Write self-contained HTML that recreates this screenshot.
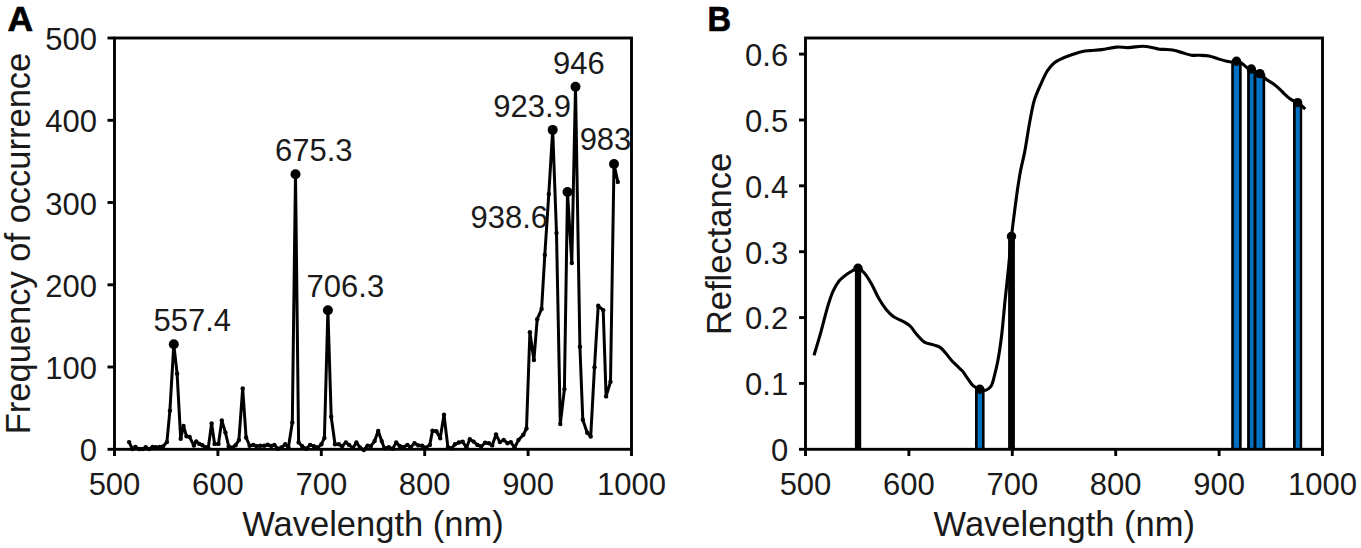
<!DOCTYPE html><html><head><meta charset="utf-8"><style>html,body{margin:0;padding:0;background:#fff;}svg{display:block;}text{font-family:"Liberation Sans",sans-serif;}</style></head><body>
<svg width="1361" height="548" viewBox="0 0 1361 548">
<rect width="1361" height="548" fill="#fff"/>
<g fill="none" stroke="#000" stroke-width="2.9">
<rect x="114.5" y="38.0" width="517.0" height="411.3"/>
<line x1="107.5" y1="449.3" x2="114.5" y2="449.3"/>
<line x1="107.5" y1="367.0" x2="114.5" y2="367.0"/>
<line x1="107.5" y1="284.8" x2="114.5" y2="284.8"/>
<line x1="107.5" y1="202.5" x2="114.5" y2="202.5"/>
<line x1="107.5" y1="120.3" x2="114.5" y2="120.3"/>
<line x1="107.5" y1="38.0" x2="114.5" y2="38.0"/>
<line x1="114.5" y1="449.3" x2="114.5" y2="456"/>
<line x1="217.9" y1="449.3" x2="217.9" y2="456"/>
<line x1="321.3" y1="449.3" x2="321.3" y2="456"/>
<line x1="424.7" y1="449.3" x2="424.7" y2="456"/>
<line x1="528.1" y1="449.3" x2="528.1" y2="456"/>
<line x1="631.5" y1="449.3" x2="631.5" y2="456"/>
</g>
<g fill="#1a1a1a" font-size="31" text-anchor="end">
<text x="97" y="461.3">0</text>
<text x="97" y="379.0">100</text>
<text x="97" y="296.8">200</text>
<text x="97" y="214.5">300</text>
<text x="97" y="132.3">400</text>
<text x="97" y="50.0">500</text>
</g>
<g fill="#1a1a1a" font-size="31" text-anchor="middle">
<text x="114.5" y="494.9">500</text>
<text x="217.9" y="494.9">600</text>
<text x="321.3" y="494.9">700</text>
<text x="424.7" y="494.9">800</text>
<text x="528.1" y="494.9">900</text>
<text x="631.5" y="494.9">1000</text>
</g>
<text x="373" y="536" font-size="34.5" fill="#1a1a1a" text-anchor="middle">Wavelength (nm)</text>
<text transform="translate(30,243.5) rotate(-90)" font-size="34.5" fill="#1a1a1a" text-anchor="middle">Frequency of occurrence</text>
<text x="7.5" y="30.9" font-size="35.5" font-weight="bold" fill="#000" stroke="#000" stroke-width="0.7">A</text>
<path d="M129.1,442.1 L132.4,449.0 L135.4,447.0 L139.3,449.0 L142.6,449.0 L145.7,447.2 L149.0,449.0 L152.6,447.0 L155.9,447.2 L159.7,447.0 L163.0,446.5 L166.9,442.1 L169.9,410.7 L173.8,344.3 L177.1,373.7 L180.7,438.8 L183.5,426.0 L186.5,436.2 L189.6,437.0 L193.9,445.6 L196.2,441.4 L199.3,443.9 L202.4,445.2 L205.7,447.2 L208.3,447.7 L211.6,423.5 L214.6,443.9 L218.5,443.9 L221.8,420.4 L225.4,432.4 L228.7,446.5 L232.0,447.7 L235.6,445.2 L238.9,440.1 L242.7,388.5 L246.1,437.5 L249.6,445.7 L253.3,444.9 L256.5,446.2 L260.3,445.8 L264.2,445.8 L267.7,444.7 L271.2,446.0 L274.4,444.9 L278.0,448.8 L281.4,447.5 L285.2,444.3 L288.4,447.5 L292.3,422.6 L295.5,174.2 L298.6,442.4 L302.2,446.2 L306.3,448.8 L310.1,444.9 L314.0,446.2 L317.8,447.5 L321.4,444.3 L324.4,437.9 L327.9,310.3 L331.2,416.8 L335.0,444.3 L338.9,444.3 L342.1,446.2 L345.9,442.4 L349.1,444.9 L352.9,448.1 L356.4,442.4 L360.0,447.5 L363.8,450.0 L367.6,445.6 L370.8,446.2 L374.6,441.1 L378.2,430.9 L381.7,441.1 L384.4,448.2 L388.8,447.3 L392.6,448.7 L396.2,442.5 L399.7,446.0 L403.5,447.3 L407.4,444.9 L410.6,447.3 L414.5,443.2 L418.3,445.4 L422.1,445.8 L426.0,447.6 L429.8,444.9 L432.5,430.6 L436.4,431.2 L440.2,438.3 L444.0,414.8 L447.9,447.1 L451.7,448.2 L455.0,444.3 L458.8,442.5 L462.6,441.6 L466.5,447.6 L469.8,439.2 L473.6,441.6 L477.4,444.9 L481.2,446.5 L485.1,442.7 L488.9,443.2 L492.2,445.4 L496.0,434.5 L499.9,442.1 L503.7,440.0 L507.5,443.2 L510.8,442.1 L514.6,447.6 L518.5,440.0 L523.3,434.8 L526.5,428.5 L529.9,332.3 L533.9,360.1 L537.2,319.2 L541.6,309.0 L544.8,254.9 L548.8,194.0 L552.7,129.9 L556.5,233.0 L560.3,424.1 L564.4,389.1 L567.5,192.0 L571.8,263.0 L575.5,86.7 L579.9,346.7 L582.8,419.7 L587.2,432.8 L590.7,436.6 L594.5,367.2 L598.2,305.8 L603.2,310.2 L606.1,396.4 L610.5,381.8 L614.0,164.0 L617.8,181.9" fill="none" stroke="#000" stroke-width="3" stroke-linejoin="round"/>
<g fill="#000">
<circle cx="129.1" cy="442.1" r="2.2"/>
<circle cx="132.4" cy="449.0" r="2.2"/>
<circle cx="135.4" cy="447.0" r="2.2"/>
<circle cx="139.3" cy="449.0" r="2.2"/>
<circle cx="142.6" cy="449.0" r="2.2"/>
<circle cx="145.7" cy="447.2" r="2.2"/>
<circle cx="149.0" cy="449.0" r="2.2"/>
<circle cx="152.6" cy="447.0" r="2.2"/>
<circle cx="155.9" cy="447.2" r="2.2"/>
<circle cx="159.7" cy="447.0" r="2.2"/>
<circle cx="163.0" cy="446.5" r="2.2"/>
<circle cx="166.9" cy="442.1" r="2.2"/>
<circle cx="169.9" cy="410.7" r="2.2"/>
<circle cx="173.8" cy="344.3" r="2.2"/>
<circle cx="177.1" cy="373.7" r="2.2"/>
<circle cx="180.7" cy="438.8" r="2.2"/>
<circle cx="183.5" cy="426.0" r="2.2"/>
<circle cx="186.5" cy="436.2" r="2.2"/>
<circle cx="189.6" cy="437.0" r="2.2"/>
<circle cx="193.9" cy="445.6" r="2.2"/>
<circle cx="196.2" cy="441.4" r="2.2"/>
<circle cx="199.3" cy="443.9" r="2.2"/>
<circle cx="202.4" cy="445.2" r="2.2"/>
<circle cx="205.7" cy="447.2" r="2.2"/>
<circle cx="208.3" cy="447.7" r="2.2"/>
<circle cx="211.6" cy="423.5" r="2.2"/>
<circle cx="214.6" cy="443.9" r="2.2"/>
<circle cx="218.5" cy="443.9" r="2.2"/>
<circle cx="221.8" cy="420.4" r="2.2"/>
<circle cx="225.4" cy="432.4" r="2.2"/>
<circle cx="228.7" cy="446.5" r="2.2"/>
<circle cx="232.0" cy="447.7" r="2.2"/>
<circle cx="235.6" cy="445.2" r="2.2"/>
<circle cx="238.9" cy="440.1" r="2.2"/>
<circle cx="242.7" cy="388.5" r="2.2"/>
<circle cx="246.1" cy="437.5" r="2.2"/>
<circle cx="249.6" cy="445.7" r="2.2"/>
<circle cx="253.3" cy="444.9" r="2.2"/>
<circle cx="256.5" cy="446.2" r="2.2"/>
<circle cx="260.3" cy="445.8" r="2.2"/>
<circle cx="264.2" cy="445.8" r="2.2"/>
<circle cx="267.7" cy="444.7" r="2.2"/>
<circle cx="271.2" cy="446.0" r="2.2"/>
<circle cx="274.4" cy="444.9" r="2.2"/>
<circle cx="278.0" cy="448.8" r="2.2"/>
<circle cx="281.4" cy="447.5" r="2.2"/>
<circle cx="285.2" cy="444.3" r="2.2"/>
<circle cx="288.4" cy="447.5" r="2.2"/>
<circle cx="292.3" cy="422.6" r="2.2"/>
<circle cx="295.5" cy="174.2" r="2.2"/>
<circle cx="298.6" cy="442.4" r="2.2"/>
<circle cx="302.2" cy="446.2" r="2.2"/>
<circle cx="306.3" cy="448.8" r="2.2"/>
<circle cx="310.1" cy="444.9" r="2.2"/>
<circle cx="314.0" cy="446.2" r="2.2"/>
<circle cx="317.8" cy="447.5" r="2.2"/>
<circle cx="321.4" cy="444.3" r="2.2"/>
<circle cx="324.4" cy="437.9" r="2.2"/>
<circle cx="327.9" cy="310.3" r="2.2"/>
<circle cx="331.2" cy="416.8" r="2.2"/>
<circle cx="335.0" cy="444.3" r="2.2"/>
<circle cx="338.9" cy="444.3" r="2.2"/>
<circle cx="342.1" cy="446.2" r="2.2"/>
<circle cx="345.9" cy="442.4" r="2.2"/>
<circle cx="349.1" cy="444.9" r="2.2"/>
<circle cx="352.9" cy="448.1" r="2.2"/>
<circle cx="356.4" cy="442.4" r="2.2"/>
<circle cx="360.0" cy="447.5" r="2.2"/>
<circle cx="363.8" cy="450.0" r="2.2"/>
<circle cx="367.6" cy="445.6" r="2.2"/>
<circle cx="370.8" cy="446.2" r="2.2"/>
<circle cx="374.6" cy="441.1" r="2.2"/>
<circle cx="378.2" cy="430.9" r="2.2"/>
<circle cx="381.7" cy="441.1" r="2.2"/>
<circle cx="384.4" cy="448.2" r="2.2"/>
<circle cx="388.8" cy="447.3" r="2.2"/>
<circle cx="392.6" cy="448.7" r="2.2"/>
<circle cx="396.2" cy="442.5" r="2.2"/>
<circle cx="399.7" cy="446.0" r="2.2"/>
<circle cx="403.5" cy="447.3" r="2.2"/>
<circle cx="407.4" cy="444.9" r="2.2"/>
<circle cx="410.6" cy="447.3" r="2.2"/>
<circle cx="414.5" cy="443.2" r="2.2"/>
<circle cx="418.3" cy="445.4" r="2.2"/>
<circle cx="422.1" cy="445.8" r="2.2"/>
<circle cx="426.0" cy="447.6" r="2.2"/>
<circle cx="429.8" cy="444.9" r="2.2"/>
<circle cx="432.5" cy="430.6" r="2.2"/>
<circle cx="436.4" cy="431.2" r="2.2"/>
<circle cx="440.2" cy="438.3" r="2.2"/>
<circle cx="444.0" cy="414.8" r="2.2"/>
<circle cx="447.9" cy="447.1" r="2.2"/>
<circle cx="451.7" cy="448.2" r="2.2"/>
<circle cx="455.0" cy="444.3" r="2.2"/>
<circle cx="458.8" cy="442.5" r="2.2"/>
<circle cx="462.6" cy="441.6" r="2.2"/>
<circle cx="466.5" cy="447.6" r="2.2"/>
<circle cx="469.8" cy="439.2" r="2.2"/>
<circle cx="473.6" cy="441.6" r="2.2"/>
<circle cx="477.4" cy="444.9" r="2.2"/>
<circle cx="481.2" cy="446.5" r="2.2"/>
<circle cx="485.1" cy="442.7" r="2.2"/>
<circle cx="488.9" cy="443.2" r="2.2"/>
<circle cx="492.2" cy="445.4" r="2.2"/>
<circle cx="496.0" cy="434.5" r="2.2"/>
<circle cx="499.9" cy="442.1" r="2.2"/>
<circle cx="503.7" cy="440.0" r="2.2"/>
<circle cx="507.5" cy="443.2" r="2.2"/>
<circle cx="510.8" cy="442.1" r="2.2"/>
<circle cx="514.6" cy="447.6" r="2.2"/>
<circle cx="518.5" cy="440.0" r="2.2"/>
<circle cx="523.3" cy="434.8" r="2.2"/>
<circle cx="526.5" cy="428.5" r="2.2"/>
<circle cx="529.9" cy="332.3" r="2.2"/>
<circle cx="533.9" cy="360.1" r="2.2"/>
<circle cx="537.2" cy="319.2" r="2.2"/>
<circle cx="541.6" cy="309.0" r="2.2"/>
<circle cx="544.8" cy="254.9" r="2.2"/>
<circle cx="548.8" cy="194.0" r="2.2"/>
<circle cx="552.7" cy="129.9" r="2.2"/>
<circle cx="556.5" cy="233.0" r="2.2"/>
<circle cx="560.3" cy="424.1" r="2.2"/>
<circle cx="564.4" cy="389.1" r="2.2"/>
<circle cx="567.5" cy="192.0" r="2.2"/>
<circle cx="571.8" cy="263.0" r="2.2"/>
<circle cx="575.5" cy="86.7" r="2.2"/>
<circle cx="579.9" cy="346.7" r="2.2"/>
<circle cx="582.8" cy="419.7" r="2.2"/>
<circle cx="587.2" cy="432.8" r="2.2"/>
<circle cx="590.7" cy="436.6" r="2.2"/>
<circle cx="594.5" cy="367.2" r="2.2"/>
<circle cx="598.2" cy="305.8" r="2.2"/>
<circle cx="603.2" cy="310.2" r="2.2"/>
<circle cx="606.1" cy="396.4" r="2.2"/>
<circle cx="610.5" cy="381.8" r="2.2"/>
<circle cx="614.0" cy="164.0" r="2.2"/>
<circle cx="617.8" cy="181.9" r="2.2"/>
<circle cx="173.8" cy="344.3" r="5"/>
<circle cx="295.5" cy="174.2" r="5"/>
<circle cx="327.9" cy="310.3" r="5"/>
<circle cx="552.7" cy="129.9" r="5"/>
<circle cx="567.5" cy="192.0" r="5"/>
<circle cx="575.5" cy="86.7" r="5"/>
<circle cx="614.0" cy="164.0" r="5"/>
</g>
<g fill="#1a1a1a" font-size="31" text-anchor="middle">
<text x="192.2" y="330.7">557.4</text>
<text x="313.8" y="161.3">675.3</text>
<text x="345.4" y="297.4">706.3</text>
<text x="532.1" y="116.8">923.9</text>
<text x="578.8" y="73.9">946</text>
<text x="509.2" y="228.4">938.6</text>
<text x="605.5" y="150.4">983</text>
</g>
<rect x="854.90" y="268.20" width="6.30" height="181.10" fill="#000"/>
<rect x="975.00" y="389.20" width="9.60" height="60.10" fill="#000"/>
<rect x="977.60" y="391.80" width="4.40" height="57.50" fill="#0070c0"/>
<rect x="1008.10" y="236.40" width="6.80" height="212.90" fill="#000"/>
<rect x="1231.20" y="61.20" width="10.50" height="388.10" fill="#000"/>
<rect x="1233.80" y="63.80" width="5.30" height="385.50" fill="#0070c0"/>
<rect x="1247.10" y="69.00" width="8.50" height="380.30" fill="#000"/>
<rect x="1249.90" y="71.60" width="3.60" height="377.70" fill="#0070c0"/>
<rect x="1254.60" y="73.60" width="10.60" height="375.70" fill="#000"/>
<rect x="1256.40" y="76.20" width="6.10" height="373.10" fill="#0070c0"/>
<rect x="1293.00" y="102.60" width="9.20" height="346.70" fill="#000"/>
<rect x="1295.70" y="105.20" width="4.10" height="344.10" fill="#0070c0"/>
<g fill="none" stroke="#000" stroke-width="2.9">
<rect x="805.5" y="38.0" width="517.0" height="411.3"/>
<line x1="799" y1="449.3" x2="805.5" y2="449.3"/>
<line x1="799" y1="383.4" x2="805.5" y2="383.4"/>
<line x1="799" y1="317.6" x2="805.5" y2="317.6"/>
<line x1="799" y1="251.7" x2="805.5" y2="251.7"/>
<line x1="799" y1="185.8" x2="805.5" y2="185.8"/>
<line x1="799" y1="120.0" x2="805.5" y2="120.0"/>
<line x1="799" y1="54.1" x2="805.5" y2="54.1"/>
<line x1="805.5" y1="449.3" x2="805.5" y2="456"/>
<line x1="908.9" y1="449.3" x2="908.9" y2="456"/>
<line x1="1012.3" y1="449.3" x2="1012.3" y2="456"/>
<line x1="1115.7" y1="449.3" x2="1115.7" y2="456"/>
<line x1="1219.1" y1="449.3" x2="1219.1" y2="456"/>
<line x1="1322.5" y1="449.3" x2="1322.5" y2="456"/>
</g>
<path d="M814.00,355.40 C816.37,347.37 818.79,339.51 821.10,331.30 C823.49,322.79 825.82,312.53 828.10,305.20 C829.80,299.74 831.12,295.31 833.10,291.10 C834.85,287.38 836.68,283.97 839.10,281.10 C841.42,278.35 844.60,276.01 847.20,274.10 C849.37,272.51 851.52,271.23 853.50,270.20 C855.15,269.35 856.61,267.99 858.20,268.20 C860.13,268.45 862.19,270.75 864.10,272.80 C866.63,275.52 869.09,279.72 871.40,283.70 C873.98,288.14 876.12,293.85 878.70,298.30 C881.02,302.30 883.40,306.12 886.00,309.30 C888.30,312.11 890.55,314.63 893.30,316.60 C896.02,318.55 899.57,319.52 902.40,321.10 C905.01,322.56 907.42,323.67 909.70,325.70 C912.35,328.06 914.49,332.00 917.00,334.80 C919.36,337.44 921.49,340.41 924.30,342.10 C927.01,343.73 930.66,343.92 933.50,344.90 C936.01,345.76 938.45,346.20 940.50,347.60 C942.64,349.06 944.20,351.53 946.00,353.60 C947.84,355.72 949.54,358.14 951.40,360.20 C953.18,362.16 955.06,363.88 956.90,365.70 C958.73,367.51 960.65,369.05 962.40,371.10 C964.34,373.37 966.06,376.30 967.90,378.80 C969.69,381.23 971.21,384.13 973.30,385.90 C975.17,387.48 977.49,388.47 979.60,389.20 C981.52,389.87 983.58,390.71 985.40,390.30 C987.36,389.86 989.43,388.35 990.90,386.30 C992.99,383.40 993.84,377.60 995.00,373.30 C996.12,369.17 996.89,365.82 997.80,361.00 C999.08,354.25 1000.38,345.49 1001.50,336.50 C1002.86,325.56 1003.89,311.76 1005.10,300.00 C1006.23,288.98 1007.43,278.64 1008.50,268.00 C1009.56,257.44 1010.43,246.25 1011.50,236.40 C1012.44,227.73 1013.50,219.84 1014.50,212.00 C1015.43,204.71 1016.28,197.82 1017.30,190.90 C1018.29,184.16 1019.26,177.50 1020.50,171.00 C1021.70,164.68 1023.25,159.34 1024.60,152.40 C1026.29,143.69 1027.85,132.01 1029.60,122.80 C1031.14,114.69 1032.30,106.87 1034.40,100.00 C1036.22,94.05 1038.71,88.87 1041.00,83.80 C1043.09,79.16 1045.07,74.37 1047.50,70.70 C1049.52,67.65 1051.72,64.97 1054.10,63.00 C1056.16,61.29 1058.18,60.43 1060.70,59.20 C1063.83,57.67 1067.93,56.09 1071.60,54.80 C1075.23,53.53 1079.27,52.20 1082.60,51.50 C1085.28,50.94 1087.24,50.88 1090.00,50.60 C1093.47,50.24 1097.66,50.13 1101.80,49.60 C1106.44,49.01 1111.86,47.39 1116.50,47.10 C1120.61,46.84 1124.08,47.71 1128.20,47.60 C1132.82,47.48 1138.63,46.11 1142.90,46.20 C1146.21,46.27 1148.88,46.86 1151.70,47.40 C1154.37,47.91 1157.02,48.99 1159.40,49.30 C1161.40,49.56 1162.93,49.29 1165.00,49.40 C1167.61,49.54 1170.89,49.64 1173.80,50.20 C1176.76,50.77 1179.65,51.97 1182.60,52.80 C1185.55,53.63 1188.52,54.79 1191.50,55.20 C1194.42,55.60 1197.37,55.15 1200.30,55.30 C1203.24,55.45 1206.19,55.54 1209.10,56.10 C1212.06,56.67 1214.97,57.83 1217.90,58.70 C1220.83,59.57 1224.21,60.75 1226.70,61.30 C1228.49,61.70 1229.83,62.01 1231.40,62.00 C1232.99,61.99 1234.55,61.04 1236.20,61.20 C1238.04,61.37 1240.10,62.27 1241.90,63.30 C1243.85,64.41 1245.54,66.86 1247.40,67.80 C1248.92,68.57 1250.56,68.38 1252.00,69.00 C1253.43,69.62 1254.62,70.74 1256.00,71.50 C1257.39,72.27 1258.90,72.60 1260.30,73.60 C1261.98,74.80 1263.29,76.95 1265.20,78.50 C1267.40,80.28 1270.60,81.82 1272.90,83.50 C1274.90,84.96 1276.53,86.31 1278.30,87.90 C1280.16,89.57 1281.95,91.55 1283.80,93.30 C1285.62,95.02 1287.39,96.90 1289.30,98.30 C1291.07,99.60 1293.25,100.75 1294.80,101.50 C1295.87,102.02 1296.64,102.06 1297.60,102.60 C1298.79,103.27 1300.08,104.35 1301.30,105.40 C1302.62,106.53 1303.90,107.93 1305.20,109.20" fill="none" stroke="#000" stroke-width="3.1" stroke-linejoin="round"/>
<g fill="#000">
<circle cx="858.0" cy="268.2" r="4.7"/>
<circle cx="979.8" cy="389.2" r="4.7"/>
<circle cx="1011.5" cy="236.4" r="4.7"/>
<circle cx="1236.5" cy="61.2" r="4.7"/>
<circle cx="1251.3" cy="69.0" r="4.7"/>
<circle cx="1259.9" cy="73.6" r="4.7"/>
<circle cx="1297.6" cy="102.6" r="4.7"/>
</g>
<g fill="#1a1a1a" font-size="31" text-anchor="end">
<text x="788.2" y="461.1">0</text>
<text x="788.2" y="395.2">0.1</text>
<text x="788.2" y="329.4">0.2</text>
<text x="788.2" y="263.5">0.3</text>
<text x="788.2" y="197.6">0.4</text>
<text x="788.2" y="131.8">0.5</text>
<text x="788.2" y="65.9">0.6</text>
</g>
<g fill="#1a1a1a" font-size="31" text-anchor="middle">
<text x="805.5" y="494.9">500</text>
<text x="908.9" y="494.9">600</text>
<text x="1012.3" y="494.9">700</text>
<text x="1115.7" y="494.9">800</text>
<text x="1219.1" y="494.9">900</text>
<text x="1322.5" y="494.9">1000</text>
</g>
<text x="1064.3" y="536" font-size="34.5" fill="#1a1a1a" text-anchor="middle">Wavelength (nm)</text>
<text transform="translate(730.5,244) rotate(-90)" font-size="34.5" fill="#1a1a1a" text-anchor="middle">Reflectance</text>
<text transform="translate(707.4,30.9) scale(0.92,1)" font-size="35.5" font-weight="bold" fill="#000" stroke="#000" stroke-width="0.7">B</text>
</svg></body></html>
